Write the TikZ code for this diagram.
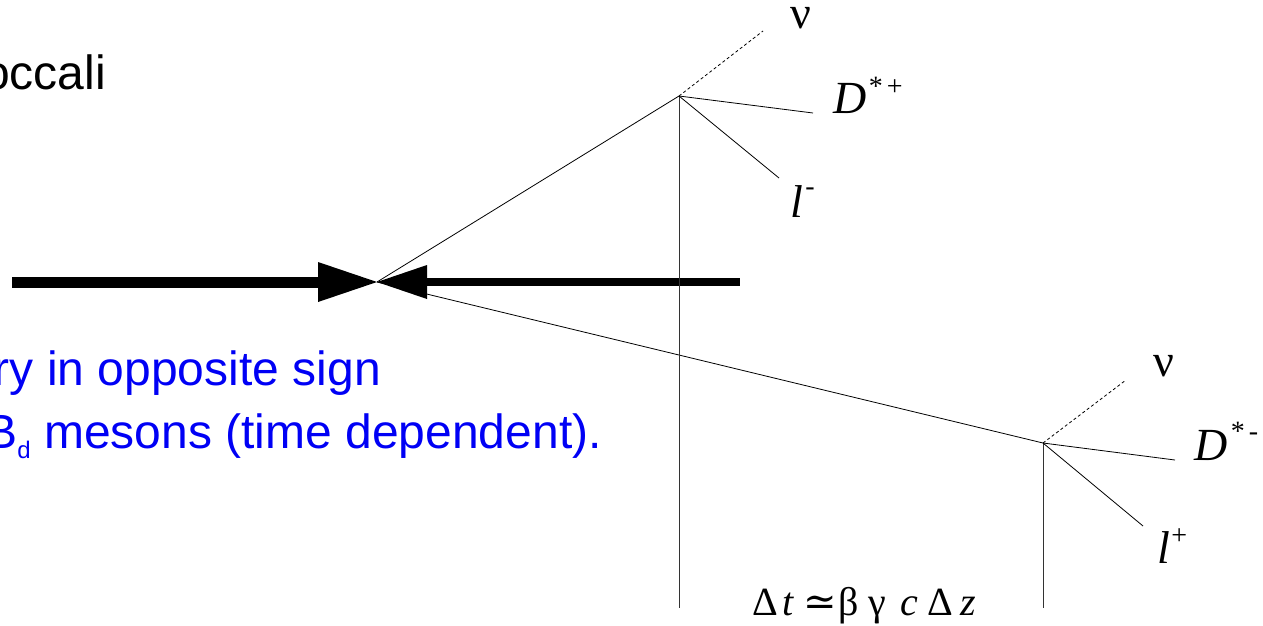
\documentclass[tikz,border=0pt]{standalone}
\usepackage{fontspec}
\setmainfont{Liberation Sans}
\newfontfamily\serf{Liberation Serif}
\newfontfamily\symf{DejaVu Serif}
\definecolor{txtblue}{RGB}{0,0,245}
\begin{document}
\begin{tikzpicture}[x=1pt,y=-1pt,
  trackline/.style={line width=0.8pt,black},
  nuline/.style={line width=0.8pt,black,dash pattern=on 3pt off 2.5pt},
  vline/.style={line width=0.9pt,black!80},
  beam/.style={black},
  bigtext/.style={inner sep=0,font=\fontsize{48}{50}\selectfont},
  lbl/.style={inner sep=0,font=\serf\fontsize{46}{48}\selectfont},
  formlbl/.style={inner sep=0,font=\serf\fontsize{40}{42}\selectfont},
  nulbl/.style={inner sep=0,font=\serf\fontsize{46}{48}\selectfont},
  suplbl/.style={inner sep=0,font=\serf\fontsize{28}{28}\selectfont}]
\useasboundingbox (0,0) rectangle (1263,625);
\clip (0,0) rectangle (1263,625);

% texts on the left
\node[bigtext,anchor=base east] (author) at (106,89) {occali};
\node[bigtext,anchor=base east,text=txtblue] (line1) at (381,385) {ry in opposite sign};
\node[bigtext,anchor=base east,text=txtblue] (line2) at (602,448) {B\raisebox{-10pt}{\fontsize{24}{24}\selectfont d} mesons (time dependent).};

% key points
\coordinate (C) at (377,282);
\coordinate (V1) at (679,96);
\coordinate (V2) at (1043,443);
\coordinate (B1) at (679,608);
\coordinate (B2) at (1043,608);
\coordinate (L0) at (12,282);
\coordinate (R0) at (740,282);

% beams
\fill[beam] (L0) ++(0,-5.5) rectangle (318,287.5);
\fill[beam] (318,262) -- (C) -- (318,302) -- cycle;
\fill[beam] (R0) ++(0,-4) rectangle (427,286);
\fill[beam] (427,265) -- (C) -- (427,299) -- cycle;

% B flight lines
\draw[trackline] (C) -- (V1);
\draw[trackline] (C) -- (V2);
\draw[vline] (V1) -- (B1);
\draw[vline] (V2) -- (B2);

% upper decay
\coordinate (n1) at (763,31);
\coordinate (d1) at (813,113);
\coordinate (l1) at (779,178);
\draw[nuline] (V1) -- (n1);
\draw[trackline] (V1) -- (d1);
\draw[trackline] (V1) -- (l1);
\node[nulbl,anchor=base] (nu1) at (801,28) {ν};
\node[lbl,anchor=base west] (D1) at (833,113) {\itshape D};
\node[suplbl,anchor=base west] (D1s) at (D1.base east) [xshift=2pt,yshift=18pt] {*\hspace{4pt}+};
\node[lbl,anchor=base west] (lm) at (790,217) {\itshape l};
\node[suplbl,anchor=base west] (lms) at (lm.base east) [xshift=2pt,yshift=22pt] {-};

% lower decay
\coordinate (n2) at (1126,380);
\coordinate (d2) at (1175,460);
\coordinate (l2) at (1143,526);
\draw[nuline] (V2) -- (n2);
\draw[trackline] (V2) -- (d2);
\draw[trackline] (V2) -- (l2);
\node[nulbl,anchor=base] (nu2) at (1164,376) {ν};
\node[lbl,anchor=base west] (D2) at (1194,460) {\itshape D};
\node[suplbl,anchor=base west] (D2s) at (D2.base east) [xshift=3pt,yshift=20pt] {*\hspace{4pt}-};
\node[lbl,anchor=base west] (lp) at (1157,563) {\itshape l};
\node[suplbl,anchor=base west] (lps) at (lp.base east) [xshift=1pt,yshift=19pt] {+};

% formula
\node[formlbl,anchor=base west] (form) at (752,615)
  {\makebox[30pt][l]{Δ}\makebox[21pt][l]{\itshape t}\makebox[35pt][l]{\symf ≃}\makebox[30pt][l]{β}\makebox[32pt][l]{γ}\makebox[27pt][l]{\itshape c}\makebox[33pt][l]{Δ}{\itshape z}};
\end{tikzpicture}
\end{document}
